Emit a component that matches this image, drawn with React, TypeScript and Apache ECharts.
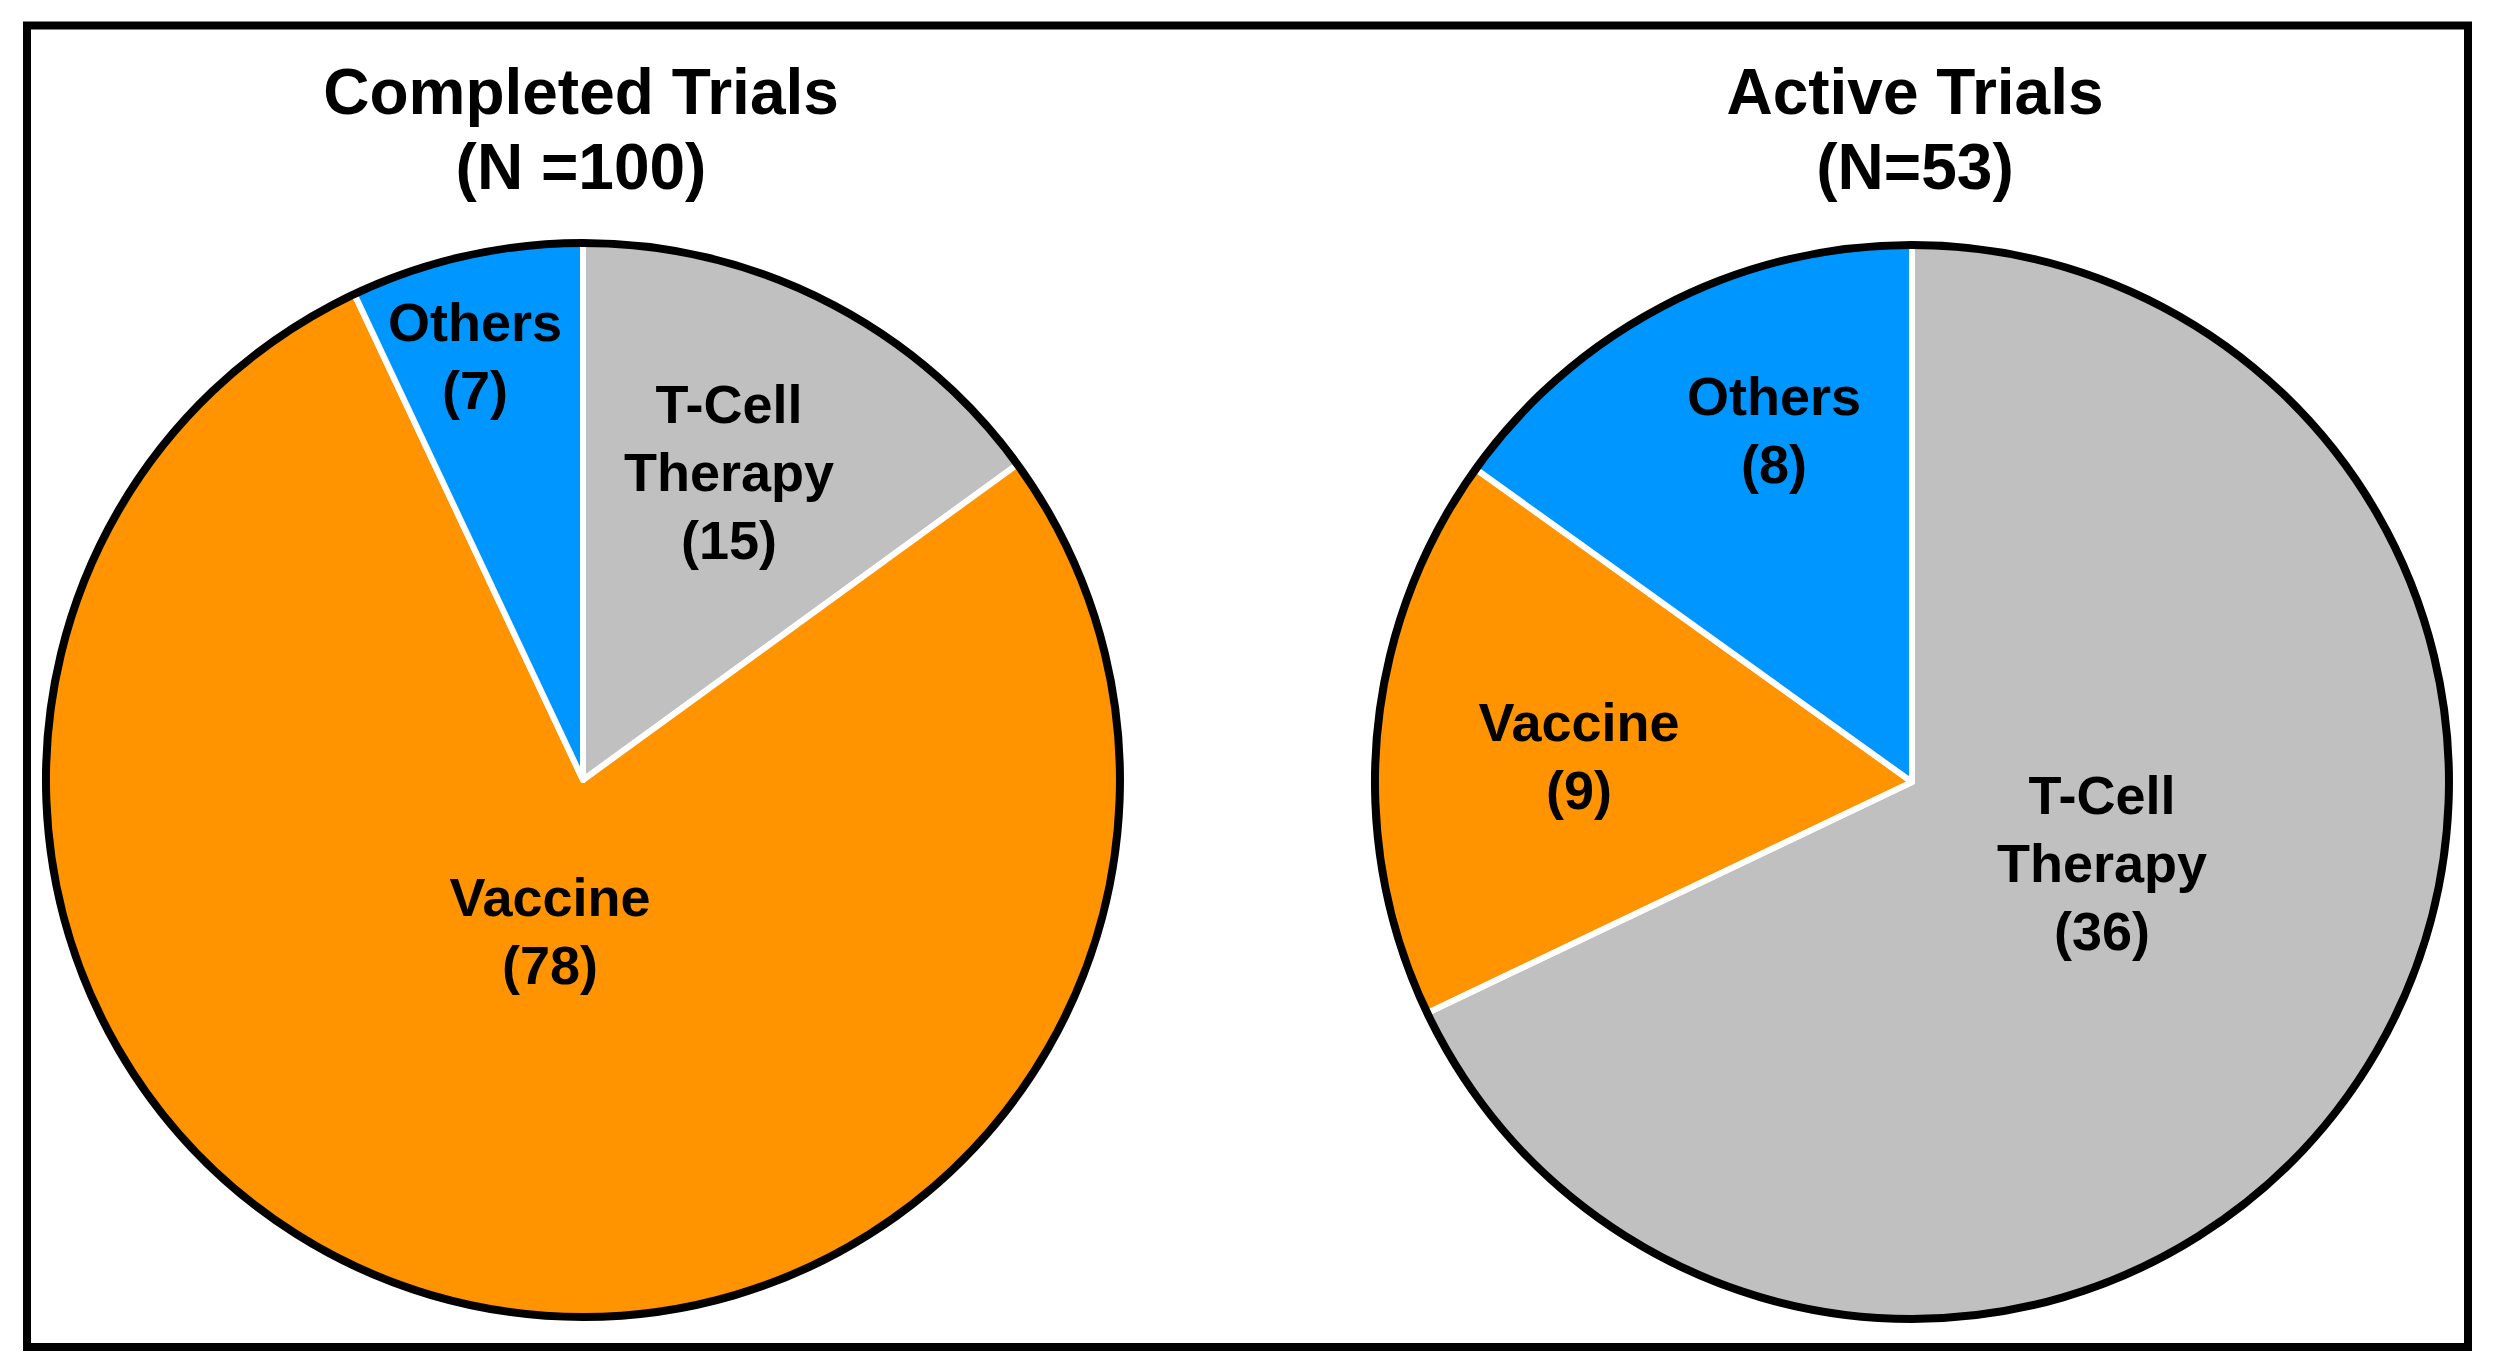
import React, { useEffect, useRef } from "react";
import * as echarts from "echarts";

const categories = ["T-Cell Therapy", "Vaccine", "Others"];
const completedValues = [15, 78, 7];
const activeValues = [36, 9, 8];
const panelTitles = ["Completed Trials", "Active Trials"];
const panelCounts = ["(N =100)", "(N=53)"];
const sliceColors = ["#C0C0C0", "#FF9300", "#0096FF"];

const W = 2494;
const H = 1367;
const centers = [
  [583, 780],
  [1912, 782],
];
const R = 537;
const titleCenters = [581, 1915];
// label block centres (layout only)
const labelSpots = [
  [
    [729, 472],
    [550, 931],
    [475, 356],
  ],
  [
    [2102, 863],
    [1579, 756],
    [1774, 430],
  ],
];

const FONT = "'Liberation Sans', Arial, Helvetica, sans-serif";

export default function App() {
  const ref = useRef<HTMLDivElement>(null);
  useEffect(() => {
    document.body.style.margin = "0";
    document.body.style.overflow = "hidden";
    const chart = echarts.init(ref.current!, null, { renderer: "svg" });
    const datasets = [completedValues, activeValues];

    const pieSeries: any[] = [];
    datasets.forEach((vals, si) => {
      pieSeries.push({
        type: "pie",
        center: centers[si],
        radius: [0, R],
        startAngle: 90,
        clockwise: true,
        avoidLabelOverlap: false,
        emphasis: { disabled: true },
        silent: true,
        z: 2,
        itemStyle: { borderColor: "#ffffff", borderWidth: 6 },
        label: {
          show: true,
          position: "inside",
          color: "#000",
          fontFamily: FONT,
          fontWeight: "bold",
          fontSize: 54,
          lineHeight: 68,
          align: "center",
          formatter: (p: any) => p.name.replace(" ", "\n") + "\n(" + p.value + ")",
        },
        labelLine: { show: false },
        labelLayout: (p: any) => {
          const s = labelSpots[si][p.dataIndex];
          return { x: s[0], y: s[1], align: "center", verticalAlign: "middle" };
        },
        data: categories.map((c, i) => ({
          name: c,
          value: vals[i],
          itemStyle: { color: sliceColors[i] },
        })),
      });
      pieSeries.push({
        type: "pie",
        center: centers[si],
        radius: [0, R],
        silent: true,
        z: 5,
        emphasis: { disabled: true },
        label: { show: false },
        labelLine: { show: false },
        itemStyle: { color: "rgba(0,0,0,0)", borderColor: "#000", borderWidth: 8 },
        data: [{ name: "outline", value: 1 }],
      });
    });

    chart.setOption({
      animation: false,
      backgroundColor: "#ffffff",
      title: panelTitles.map((t, i) => ({
        text: t + "\n" + panelCounts[i],
        left: titleCenters[i],
        top: 54,
        textAlign: "center",
        padding: 0,
        textStyle: {
          fontFamily: FONT,
          fontWeight: "bold",
          fontSize: 64,
          lineHeight: 75,
          color: "#000",
        },
      })),
      graphic: [
        {
          type: "rect",
          shape: { x: 27, y: 25.5, width: 2441, height: 1321.5 },
          style: { fill: "none", stroke: "#000", lineWidth: 8 },
          silent: true,
          z: 10,
        },
      ],
      series: pieSeries,
    });
    return () => chart.dispose();
  }, []);
  return <div ref={ref} style={{ width: W, height: H }} />;
}
